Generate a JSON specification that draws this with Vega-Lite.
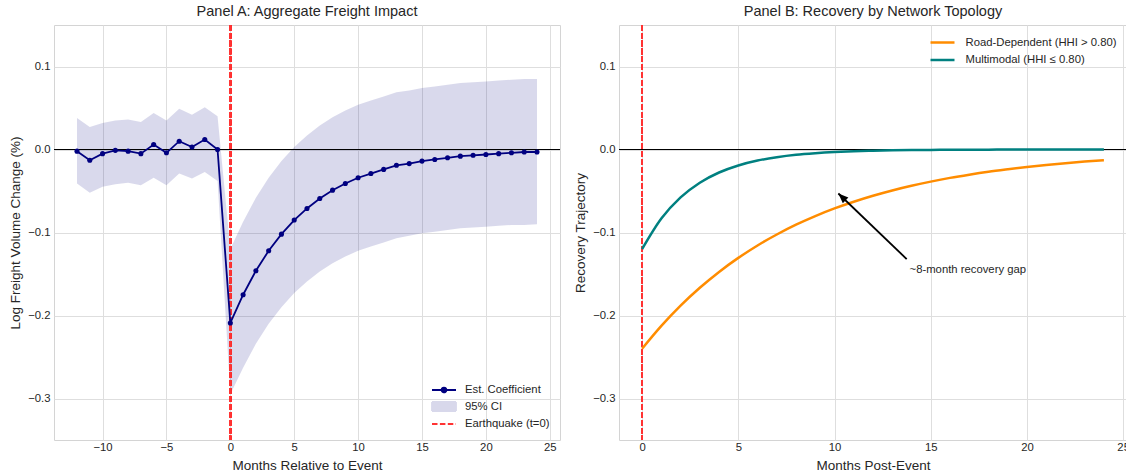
{
  "$schema": "https://vega.github.io/schema/vega-lite/v6.json",
  "background": "white",
  "padding": {"left": 7, "top": 3, "right": 0, "bottom": 0},
  "spacing": 10,
  "config": {
    "font": "Liberation Sans",
    "view": {"stroke": "#d4d4d4", "strokeWidth": 1},
    "axis": {
      "grid": true, "gridColor": "#dedede", "gridWidth": 1,
      "domain": false, "ticks": false,
      "labelFont": "Liberation Sans", "labelFontSize": 11.3, "labelColor": "#262626",
      "titleFont": "Liberation Sans", "titleFontSize": 13.5, "titleFontWeight": "normal", "titleColor": "#262626",
      "labelPadding": 4
    },
    "axisY": {"minExtent": 28, "maxExtent": 28, "titlePadding": 4},
    "axisX": {"titlePadding": 6, "labelPadding": 1},
    "title": {"fontSize": 14.5, "fontWeight": "normal", "color": "#262626", "offset": 5, "font": "Liberation Sans"},
    "legend": {"labelFont": "Liberation Sans", "labelFontSize": 11.3, "labelColor": "#262626", "padding": 0}
  },
  "datasets": {
    "panelA": [
      {"t": -12, "coef": -0.002, "lo": -0.041, "hi": 0.038},
      {"t": -11, "coef": -0.013, "lo": -0.052, "hi": 0.027},
      {"t": -10, "coef": -0.005, "lo": -0.045, "hi": 0.032},
      {"t": -9, "coef": -0.001, "lo": -0.042, "hi": 0.035},
      {"t": -8, "coef": -0.002, "lo": -0.040, "hi": 0.036},
      {"t": -7, "coef": -0.005, "lo": -0.043, "hi": 0.033},
      {"t": -6, "coef": 0.006, "lo": -0.034, "hi": 0.044},
      {"t": -5, "coef": -0.004, "lo": -0.043, "hi": 0.035},
      {"t": -4, "coef": 0.010, "lo": -0.029, "hi": 0.049},
      {"t": -3, "coef": 0.003, "lo": -0.035, "hi": 0.042},
      {"t": -2, "coef": 0.012, "lo": -0.027, "hi": 0.051},
      {"t": -1, "coef": 0.000, "lo": -0.038, "hi": 0.040},
      {"t": 0, "coef": -0.209, "lo": -0.295, "hi": -0.120},
      {"t": 1, "coef": -0.175, "lo": -0.263, "hi": -0.087},
      {"t": 2, "coef": -0.146, "lo": -0.234, "hi": -0.058},
      {"t": 3, "coef": -0.122, "lo": -0.210, "hi": -0.034},
      {"t": 4, "coef": -0.102, "lo": -0.190, "hi": -0.014},
      {"t": 5, "coef": -0.085, "lo": -0.173, "hi": 0.003},
      {"t": 6, "coef": -0.071, "lo": -0.159, "hi": 0.017},
      {"t": 7, "coef": -0.059, "lo": -0.147, "hi": 0.029},
      {"t": 8, "coef": -0.049, "lo": -0.137, "hi": 0.039},
      {"t": 9, "coef": -0.041, "lo": -0.129, "hi": 0.047},
      {"t": 10, "coef": -0.034, "lo": -0.122, "hi": 0.054},
      {"t": 11, "coef": -0.029, "lo": -0.117, "hi": 0.059},
      {"t": 12, "coef": -0.024, "lo": -0.112, "hi": 0.064},
      {"t": 13, "coef": -0.019, "lo": -0.107, "hi": 0.069},
      {"t": 14, "coef": -0.017, "lo": -0.104, "hi": 0.071},
      {"t": 15, "coef": -0.014, "lo": -0.101, "hi": 0.074},
      {"t": 16, "coef": -0.012, "lo": -0.099, "hi": 0.076},
      {"t": 17, "coef": -0.010, "lo": -0.097, "hi": 0.078},
      {"t": 18, "coef": -0.008, "lo": -0.095, "hi": 0.080},
      {"t": 19, "coef": -0.007, "lo": -0.094, "hi": 0.081},
      {"t": 20, "coef": -0.006, "lo": -0.093, "hi": 0.082},
      {"t": 21, "coef": -0.005, "lo": -0.092, "hi": 0.083},
      {"t": 22, "coef": -0.004, "lo": -0.091, "hi": 0.084},
      {"t": 23, "coef": -0.003, "lo": -0.091, "hi": 0.085},
      {"t": 24, "coef": -0.003, "lo": -0.090, "hi": 0.085}
    ],
    "panelB": [
      {"t": 0, "series": "Road-Dependent (HHI > 0.80)", "value": -0.2400},
      {"t": 1, "series": "Road-Dependent (HHI > 0.80)", "value": -0.2125},
      {"t": 2, "series": "Road-Dependent (HHI > 0.80)", "value": -0.1881},
      {"t": 3, "series": "Road-Dependent (HHI > 0.80)", "value": -0.1666},
      {"t": 4, "series": "Road-Dependent (HHI > 0.80)", "value": -0.1475},
      {"t": 5, "series": "Road-Dependent (HHI > 0.80)", "value": -0.1306},
      {"t": 6, "series": "Road-Dependent (HHI > 0.80)", "value": -0.1156},
      {"t": 7, "series": "Road-Dependent (HHI > 0.80)", "value": -0.1024},
      {"t": 8, "series": "Road-Dependent (HHI > 0.80)", "value": -0.0906},
      {"t": 9, "series": "Road-Dependent (HHI > 0.80)", "value": -0.0802},
      {"t": 10, "series": "Road-Dependent (HHI > 0.80)", "value": -0.0710},
      {"t": 11, "series": "Road-Dependent (HHI > 0.80)", "value": -0.0629},
      {"t": 12, "series": "Road-Dependent (HHI > 0.80)", "value": -0.0557},
      {"t": 13, "series": "Road-Dependent (HHI > 0.80)", "value": -0.0493},
      {"t": 14, "series": "Road-Dependent (HHI > 0.80)", "value": -0.0437},
      {"t": 15, "series": "Road-Dependent (HHI > 0.80)", "value": -0.0387},
      {"t": 16, "series": "Road-Dependent (HHI > 0.80)", "value": -0.0342},
      {"t": 17, "series": "Road-Dependent (HHI > 0.80)", "value": -0.0303},
      {"t": 18, "series": "Road-Dependent (HHI > 0.80)", "value": -0.0268},
      {"t": 19, "series": "Road-Dependent (HHI > 0.80)", "value": -0.0238},
      {"t": 20, "series": "Road-Dependent (HHI > 0.80)", "value": -0.0210},
      {"t": 21, "series": "Road-Dependent (HHI > 0.80)", "value": -0.0186},
      {"t": 22, "series": "Road-Dependent (HHI > 0.80)", "value": -0.0165},
      {"t": 23, "series": "Road-Dependent (HHI > 0.80)", "value": -0.0146},
      {"t": 24, "series": "Road-Dependent (HHI > 0.80)", "value": -0.0129},
      {"t": 0, "series": "Multimodal (HHI ≤ 0.80)", "value": -0.1200},
      {"t": 1, "series": "Multimodal (HHI ≤ 0.80)", "value": -0.0832},
      {"t": 2, "series": "Multimodal (HHI ≤ 0.80)", "value": -0.0577},
      {"t": 3, "series": "Multimodal (HHI ≤ 0.80)", "value": -0.0400},
      {"t": 4, "series": "Multimodal (HHI ≤ 0.80)", "value": -0.0277},
      {"t": 5, "series": "Multimodal (HHI ≤ 0.80)", "value": -0.0192},
      {"t": 6, "series": "Multimodal (HHI ≤ 0.80)", "value": -0.0133},
      {"t": 7, "series": "Multimodal (HHI ≤ 0.80)", "value": -0.0093},
      {"t": 8, "series": "Multimodal (HHI ≤ 0.80)", "value": -0.0064},
      {"t": 9, "series": "Multimodal (HHI ≤ 0.80)", "value": -0.0045},
      {"t": 10, "series": "Multimodal (HHI ≤ 0.80)", "value": -0.0031},
      {"t": 11, "series": "Multimodal (HHI ≤ 0.80)", "value": -0.0021},
      {"t": 12, "series": "Multimodal (HHI ≤ 0.80)", "value": -0.0015},
      {"t": 13, "series": "Multimodal (HHI ≤ 0.80)", "value": -0.0010},
      {"t": 14, "series": "Multimodal (HHI ≤ 0.80)", "value": -0.0007},
      {"t": 15, "series": "Multimodal (HHI ≤ 0.80)", "value": -0.0005},
      {"t": 16, "series": "Multimodal (HHI ≤ 0.80)", "value": -0.0003},
      {"t": 17, "series": "Multimodal (HHI ≤ 0.80)", "value": -0.0002},
      {"t": 18, "series": "Multimodal (HHI ≤ 0.80)", "value": -0.00016},
      {"t": 19, "series": "Multimodal (HHI ≤ 0.80)", "value": -0.0001},
      {"t": 20, "series": "Multimodal (HHI ≤ 0.80)", "value": -0.00008},
      {"t": 21, "series": "Multimodal (HHI ≤ 0.80)", "value": -0.00005},
      {"t": 22, "series": "Multimodal (HHI ≤ 0.80)", "value": -0.00004},
      {"t": 23, "series": "Multimodal (HHI ≤ 0.80)", "value": -0.00003},
      {"t": 24, "series": "Multimodal (HHI ≤ 0.80)", "value": -0.00002}
    ],
    "arrow": [
      {"x": 13.75, "y": -0.132, "x2": 10.2, "y2": -0.053, "label": "~8-month recovery gap", "tx": 13.9, "ty": -0.145}
    ]
  },
  "resolve": {
    "scale": {"color": "independent", "stroke": "independent", "shape": "independent", "strokeDash": "independent", "opacity": "independent", "x": "independent", "y": "independent"},
    "legend": {"color": "independent", "stroke": "independent", "shape": "independent", "strokeDash": "independent", "opacity": "independent"}
  },
  "hconcat": [
    {
      "width": 506,
      "height": 415,
      "title": "Panel A: Aggregate Freight Impact",
      "data": {"name": "panelA"},
      "encoding": {
        "x": {"type": "quantitative", "scale": {"domain": [-13.8, 25.8], "nice": false, "zero": false},
              "axis": {"values": [-10, -5, 0, 5, 10, 15, 20, 25], "format": "d", "title": "Months Relative to Event"}}
      },
      "layer": [
        {
          "mark": {"type": "area", "opacity": 0.15, "color": "#000080"},
          "encoding": {
            "x": {"field": "t", "type": "quantitative"},
            "y": {"field": "lo", "type": "quantitative", "scale": {"domain": [-0.35, 0.15], "nice": false, "zero": false},
                  "axis": {"values": [-0.3, -0.2, -0.1, 0, 0.1], "format": ".1f", "title": "Log Freight Volume Change (%)"}},
            "y2": {"field": "hi"}
          }
        },
        {
          "mark": {"type": "rule", "color": "black", "opacity": 0.8, "strokeWidth": 1.2},
          "encoding": {"y": {"datum": 0, "type": "quantitative"}}
        },
        {
          "mark": {"type": "rule", "color": "#ff3333", "strokeWidth": 1.6, "strokeDash": [5.5, 2.4]},
          "encoding": {"x": {"datum": 0, "type": "quantitative"}}
        },
        {
          "mark": {"type": "line", "color": "#000080", "strokeWidth": 1.8},
          "encoding": {
            "x": {"field": "t", "type": "quantitative"},
            "y": {"field": "coef", "type": "quantitative"}
          }
        },
        {
          "mark": {"type": "point", "filled": true, "size": 26, "opacity": 1, "color": "#000080"},
          "encoding": {
            "x": {"field": "t", "type": "quantitative"},
            "y": {"field": "coef", "type": "quantitative"}
          }
        },
        {
          "transform": [{"filter": "false"}],
          "mark": {"type": "point", "filled": true, "strokeWidth": 1.8},
          "encoding": {
            "x": {"field": "t", "type": "quantitative"},
            "y": {"field": "coef", "type": "quantitative"},
            "color": {"datum": "Est. Coefficient", "type": "nominal",
              "scale": {"domain": ["Est. Coefficient", "95% CI", "Earthquake (t=0)"], "range": ["#000080", "#000080", "#ff3333"]},
              "legend": {"orient": "bottom-right", "title": null, "offset": 10, "symbolSize": 144, "rowPadding": 1.5, "labelOffset": 14, "symbolStrokeWidth": 1.8}},
            "stroke": {"datum": "Est. Coefficient", "type": "nominal",
              "scale": {"domain": ["Est. Coefficient", "95% CI", "Earthquake (t=0)"], "range": ["#000080", "#000080", "#ff3333"]},
              "legend": {"orient": "bottom-right", "title": null}},
            "shape": {"datum": "Est. Coefficient", "type": "nominal",
              "scale": {"domain": ["Est. Coefficient", "95% CI", "Earthquake (t=0)"],
                        "range": ["M-2,0H2M0.4,0A0.4,0.4 0 1 1 -0.4,0A0.4,0.4 0 1 1 0.4,0Z", "M-2,-0.75H2V0.75H-2Z", "M-2,0H2"]},
              "legend": {"orient": "bottom-right", "title": null}},
            "strokeDash": {"datum": "Est. Coefficient", "type": "nominal",
              "scale": {"domain": ["Est. Coefficient", "95% CI", "Earthquake (t=0)"], "range": [[1, 0], [1, 0], [5.5, 2.4]]},
              "legend": {"orient": "bottom-right", "title": null}},
            "opacity": {"datum": "Est. Coefficient", "type": "nominal",
              "scale": {"type": "ordinal", "domain": ["Est. Coefficient", "95% CI", "Earthquake (t=0)"], "range": [1, 0.15, 1]},
              "legend": {"orient": "bottom-right", "title": null}}
          }
        }
      ]
    },
    {
      "width": 508,
      "height": 415,
      "title": "Panel B: Recovery by Network Topology",
      "encoding": {
        "x": {"type": "quantitative", "scale": {"domain": [-1.2, 25.2], "nice": false, "zero": false},
              "axis": {"values": [0, 5, 10, 15, 20, 25], "format": "d", "title": "Months Post-Event"}},
        "y": {"type": "quantitative", "scale": {"domain": [-0.35, 0.15], "nice": false, "zero": false},
              "axis": {"values": [-0.3, -0.2, -0.1, 0, 0.1], "format": ".1f", "title": "Recovery Trajectory"}}
      },
      "layer": [
        {
          "data": {"name": "panelB"},
          "mark": {"type": "rule", "color": "black", "opacity": 0.8, "strokeWidth": 1.2},
          "encoding": {"y": {"datum": 0, "type": "quantitative"}}
        },
        {
          "data": {"name": "panelB"},
          "mark": {"type": "rule", "color": "#ff3333", "strokeWidth": 1.6, "strokeDash": [5.5, 2.4]},
          "encoding": {"x": {"datum": 0, "type": "quantitative"}}
        },
        {
          "data": {"name": "panelB"},
          "mark": {"type": "line", "strokeWidth": 2.5, "interpolate": "monotone"},
          "encoding": {
            "x": {"field": "t", "type": "quantitative"},
            "y": {"field": "value", "type": "quantitative"},
            "color": {"field": "series", "type": "nominal",
              "scale": {"domain": ["Road-Dependent (HHI > 0.80)", "Multimodal (HHI ≤ 0.80)"], "range": ["#ff8c00", "#008080"]},
              "legend": {"orient": "top-right", "title": null, "offset": 10, "symbolType": "M-2,0H2", "symbolSize": 144,
                         "symbolStrokeWidth": 2.5, "rowPadding": 4.5, "labelOffset": 15.5}}
          }
        },
        {
          "data": {"name": "arrow"},
          "mark": {"type": "rule", "color": "black", "strokeWidth": 1.8},
          "encoding": {
            "x": {"field": "x", "type": "quantitative"},
            "y": {"field": "y", "type": "quantitative"},
            "x2": {"field": "x2"},
            "y2": {"field": "y2"}
          }
        },
        {
          "data": {"name": "arrow"},
          "mark": {"type": "point", "shape": "M0,0L-0.8,2L0.8,2Z", "filled": true, "color": "black", "opacity": 1, "size": 100, "angle": 313.7},
          "encoding": {
            "x": {"field": "x2", "type": "quantitative"},
            "y": {"field": "y2", "type": "quantitative"}
          }
        },
        {
          "data": {"name": "arrow"},
          "mark": {"type": "text", "align": "left", "baseline": "middle", "fontSize": 11.3, "color": "#262626", "font": "Liberation Sans"},
          "encoding": {
            "x": {"field": "tx", "type": "quantitative"},
            "y": {"field": "ty", "type": "quantitative"},
            "text": {"field": "label"}
          }
        }
      ]
    }
  ]
}
